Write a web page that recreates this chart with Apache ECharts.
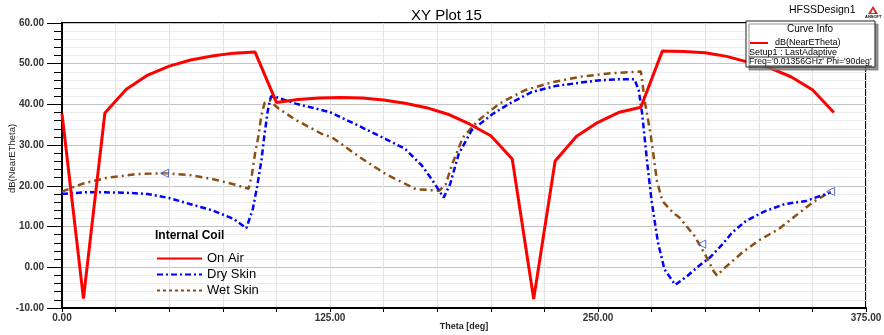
<!DOCTYPE html>
<html>
<head>
<meta charset="utf-8">
<script src="https://cdn.jsdelivr.net/npm/echarts@6/dist/echarts.min.js"></script>
<style>
html,body{margin:0;padding:0;background:#fff;}
#c{width:884px;height:335px;}
</style>
</head>
<body>
<div id="c"></div>
<script>
// ---- data ----
const onAirTheta = [0,10,20,30,40,50,60,70,80,90,100,110,120,130,140,150,160,170,180,190,200,210,220,230,240,250,260,270,280,290,300,310,320,330,340,350,360];
const onAirVal   = [37.7,-7.7,37.9,43.7,47.2,49.4,50.9,51.9,52.6,52.9,40.5,41.2,41.6,41.7,41.6,41.1,40.3,39.2,37.6,35.2,32.3,26.6,-7.8,26.1,32.2,35.6,38.1,39.3,53.1,53.0,52.7,51.8,50.4,49.0,46.8,43.6,38.0];

const dryTheta = [0,10,20,30,40,50,60,70,80,86,89,91,93,94.5,96,97.5,100.5,109,125,139,151,160,168,173,178,181,185,191,201,210,219,230,241,250,260,267,269,270.6,273,275,278,281,286,291.5,297,302,308,312.5,319,328,337,347,358.5];
const dryVal   = [18.0,18.4,18.4,18.3,18.0,17.0,15.5,14.0,11.9,9.6,14.3,19.8,26.2,32.8,38.5,42.0,41.7,40.2,38.1,34.6,31.5,29.1,24.9,21.2,17.1,20.4,27.8,33.6,37.7,40.6,43.0,44.5,45.3,45.9,46.2,46.2,43.5,37.7,25.4,16.3,6.0,-0.5,-4.3,-2.2,0.3,2.3,5.6,8.5,11.4,13.8,15.5,16.3,18.4];

const wetTheta = [0,10,21,35,48,59,70,80,87,88.5,90,91.5,93,94.5,97,101,109,121,126,139,151,165,176,179,182,187,194,204,216,229,243,255,270,272,274.5,277.5,280,285,288,295,300,304,305.5,309,317,325,334,342,350,358.5];
const wetVal   = [18.6,20.6,22.0,22.9,23.1,22.7,21.7,20.4,19.3,22.5,27.8,31.9,37.3,40.4,40.9,39.0,36.2,32.8,31.9,27.0,22.9,19.2,18.8,20.4,25.4,31.9,36.0,40.2,43.5,45.5,46.9,47.6,48.1,40.2,32.8,21.2,16.3,13.4,12.2,7.7,3.1,-1.0,-2.0,-0.2,3.5,6.6,9.3,12.6,15.9,18.6];

const markerTheta = [47.8, 298.4, 358.5];
const markerVal   = [23.1, 5.7, 18.6];

const seriesNames = ['On Air','Dry Skin','Wet Skin'];
const xTicks = [0,125,250,375];

// ---- chart ----
const zip = (a,b) => a.map((v,i)=>[v,b[i]]);
const chart = echarts.init(document.getElementById('c'));
const F = 'Arial, "Liberation Sans", sans-serif';

const option = {
  animation:false,
  backgroundColor:'#fff',
  title:{
    text:'XY Plot 15', left:406, top:3,
    textStyle:{fontFamily:F, fontSize:15, fontWeight:'normal', color:'#000'}
  },
  grid:{left:62,right:18,top:23,bottom:27,show:true,borderColor:'#000',borderWidth:2,backgroundColor:'transparent',
    containLabel:false, outerBoundsMode:'none'},
  xAxis:{
    type:'value', min:0, max:375, interval:25,
    name:'Theta [deg]', nameLocation:'middle', nameGap:14, nameMoveOverlap:false,
    nameTextStyle:{fontFamily:F, fontSize:9, fontWeight:'bold', color:'#222'},
    axisLine:{show:true,onZero:false,lineStyle:{color:'#000',width:2}},
    axisTick:{show:true,length:4,lineStyle:{color:'#000'}},
    axisLabel:{margin:5,fontFamily:F,fontSize:10,fontWeight:'bold',color:'#333',
      showMaxLabel:true,showMinLabel:true,
      formatter:v => xTicks.indexOf(v)>=0 ? v.toFixed(2) : ''},
    splitLine:{show:true,lineStyle:{color:'#e2e2e2',width:1}}
  },
  yAxis:{
    type:'value', min:-10, max:60, interval:10,
    name:'dB(NearETheta)', nameLocation:'middle', nameGap:45, nameMoveOverlap:false,
    nameTextStyle:{fontFamily:F, fontSize:9.5, color:'#222', padding:[0,0,0,14]},
    axisLine:{show:true,onZero:false,lineStyle:{color:'#000',width:2}},
    axisTick:{show:true,length:15,lineStyle:{color:'#000'}},
    minorTick:{show:true,splitNumber:5,length:8,lineStyle:{color:'#000'}},
    axisLabel:{margin:18,fontFamily:F,fontSize:10,fontWeight:'bold',color:'#333',
      formatter:v => v.toFixed(2)},
    splitLine:{show:true,lineStyle:{color:'#c4c4c4',width:1}},
    minorSplitLine:{show:true,lineStyle:{color:'#ececec',width:1}}
  },
  legend:{
    show:true, orient:'vertical', left:151, top:247, itemWidth:45, itemHeight:14, itemGap:3,
    textStyle:{fontFamily:F,fontSize:13,color:'#000'},
    itemStyle:{opacity:0},
    data:[
      {name:seriesNames[0]},
      {name:seriesNames[1]},
      {name:seriesNames[2], lineStyle:{type:[3,3]}}
    ]
  },
  series:[
    {name:seriesNames[2], type:'line', data:zip(wetTheta,wetVal), symbol:'none', z:2,
      lineStyle:{color:'#8c4f12',width:2.5,type:[7,4,2,4]}, itemStyle:{color:'#8c4f12'}},
    {name:seriesNames[1], type:'line', data:zip(dryTheta,dryVal), symbol:'none', z:3,
      lineStyle:{color:'#0000ff',width:2.5,type:[6,3,2,3]}, itemStyle:{color:'#0000ff'}},
    {name:seriesNames[0], type:'line', data:zip(onAirTheta,onAirVal), symbol:'none', z:4,
      lineStyle:{color:'#ff0000',width:3}, itemStyle:{color:'#ff0000'}},
    {name:'markers', type:'scatter', data:zip(markerTheta,markerVal), symbol:'triangle', symbolSize:8, symbolRotate:90, z:5,
      itemStyle:{color:'rgba(255,255,255,0.3)',borderColor:'#3050c8',borderWidth:1}, silent:true}
  ],
  graphic:[
    {type:'text', left:155, top:230, z:10, style:{text:'Internal Coil', font:'bold 12px '+F, fill:'#000', backgroundColor:'#fff'}},
    {type:'text', left:789, top:5, style:{text:'HFSSDesign1', font:'10.5px '+F, fill:'#000'}},
    {type:'polygon', shape:{points:[[873,6],[868,14],[878,14]]}, style:{fill:'#d02020'}},
    {type:'polygon', shape:{points:[[873,9],[871,13],[875,13]]}, style:{fill:'#fff'}},
    {type:'text', left:865, top:15, style:{text:'ANSOFT', font:'bold 4px '+F, fill:'#000'}},
    {type:'rect', shape:{x:746,y:21,width:129,height:46}, z:100,
      style:{fill:'#fff',stroke:'#222',lineWidth:1,shadowColor:'rgba(120,120,120,0.8)',shadowOffsetX:3,shadowOffsetY:3,shadowBlur:0}},
    {type:'text', x:810, y:24, z:101, style:{text:'Curve Info', font:'10px '+F, fill:'#000', textAlign:'center'}},
    {type:'line', shape:{x1:750,y1:43,x2:768,y2:43}, z:101, style:{stroke:'#ff0000',lineWidth:2}},
    {type:'text', x:775, y:38.5, z:101, style:{text:'dB(NearETheta)', font:'9px '+F, fill:'#000'}},
    {type:'line', shape:{x1:775,y1:47.5,x2:838,y2:47.5}, z:101, style:{stroke:'#000',lineWidth:0.8}},
    {type:'text', x:749, y:48, z:101, style:{text:'Setup1 : LastAdaptive', font:'9px '+F, fill:'#000'}},
    {type:'line', shape:{x1:749,y1:57,x2:835,y2:57}, z:101, style:{stroke:'#000',lineWidth:0.8}},
    {type:'text', x:749, y:57.5, z:101, style:{text:"Freq='0.01356GHz' Phi='90deg'", font:'8.7px '+F, fill:'#000'}},
    {type:'line', shape:{x1:749,y1:66,x2:872,y2:66}, z:101, style:{stroke:'#000',lineWidth:0.8}}
  ]
};
chart.setOption(option);
</script>
</body>
</html>
